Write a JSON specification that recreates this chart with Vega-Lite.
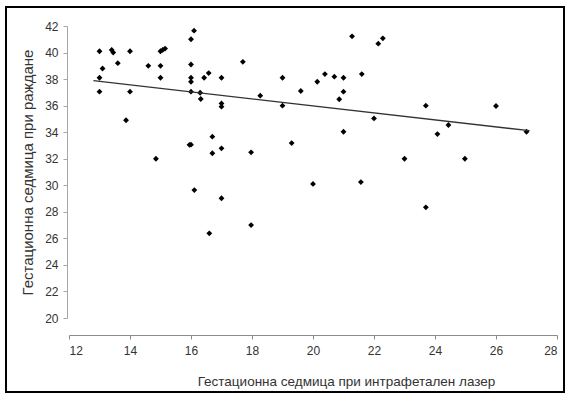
{
  "$schema": "https://vega.github.io/schema/vega-lite/v6.json",
  "width": 558,
  "height": 385,
  "autosize": {"type": "none"},
  "padding": {"left": 6, "top": 7, "right": 5, "bottom": 4},
  "background": "#ffffff",
  "config": {
    "view": {"stroke": "#000000", "strokeWidth": 2},
    "font": "Liberation Sans",
    "axis": {"grid": false, "labelOverlap": false}
  },
  "datasets": {
    "points": [
      {"x": 13.0, "y": 40.1}, {"x": 13.4, "y": 40.2}, {"x": 13.45, "y": 40.0}, {"x": 14.0, "y": 40.1},
      {"x": 13.1, "y": 38.8}, {"x": 13.6, "y": 39.2}, {"x": 13.0, "y": 38.1}, {"x": 14.6, "y": 39.0},
      {"x": 15.0, "y": 40.1}, {"x": 15.07, "y": 40.2}, {"x": 15.15, "y": 40.3}, {"x": 15.0, "y": 39.0},
      {"x": 15.0, "y": 38.1}, {"x": 13.0, "y": 37.05}, {"x": 14.0, "y": 37.05}, {"x": 13.87, "y": 34.9},
      {"x": 14.85, "y": 32.0}, {"x": 15.95, "y": 33.05}, {"x": 16.1, "y": 41.65}, {"x": 16.0, "y": 41.0},
      {"x": 16.0, "y": 39.1}, {"x": 16.0, "y": 38.1}, {"x": 16.0, "y": 37.8}, {"x": 16.43, "y": 38.1},
      {"x": 16.58, "y": 38.45}, {"x": 17.0, "y": 38.1}, {"x": 17.7, "y": 39.3}, {"x": 16.0, "y": 37.05},
      {"x": 16.3, "y": 36.97}, {"x": 16.32, "y": 36.5}, {"x": 17.0, "y": 36.17}, {"x": 17.0, "y": 35.92},
      {"x": 18.27, "y": 36.75}, {"x": 19.0, "y": 38.1}, {"x": 19.0, "y": 36.0}, {"x": 19.6, "y": 37.1},
      {"x": 16.7, "y": 33.66}, {"x": 21.28, "y": 41.22}, {"x": 22.14, "y": 40.67}, {"x": 22.29, "y": 41.07},
      {"x": 20.14, "y": 37.8}, {"x": 20.39, "y": 38.38}, {"x": 20.7, "y": 38.18}, {"x": 21.0, "y": 38.1},
      {"x": 21.6, "y": 38.38}, {"x": 21.0, "y": 37.05}, {"x": 20.86, "y": 36.48}, {"x": 23.7, "y": 36.0},
      {"x": 22.0, "y": 35.04}, {"x": 21.0, "y": 34.03}, {"x": 26.0, "y": 35.97}, {"x": 24.44, "y": 34.54},
      {"x": 24.08, "y": 33.86}, {"x": 27.0, "y": 34.03}, {"x": 16.0, "y": 33.06}, {"x": 16.7, "y": 32.41},
      {"x": 17.0, "y": 32.78}, {"x": 17.97, "y": 32.48}, {"x": 19.3, "y": 33.18}, {"x": 16.11, "y": 29.64},
      {"x": 17.0, "y": 29.02}, {"x": 17.97, "y": 27.0}, {"x": 16.6, "y": 26.38}, {"x": 23.0, "y": 32.0},
      {"x": 20.0, "y": 30.1}, {"x": 21.57, "y": 30.24}, {"x": 23.7, "y": 28.34}, {"x": 24.98, "y": 32.0}
    ],
    "trend": [
      {"x": 12.8, "y": 37.88},
      {"x": 27.1, "y": 34.11}
    ]
  },
  "encoding": {
    "x": {
      "field": "x", "type": "quantitative",
      "scale": {"domain": [12, 28], "range": [63, 551], "nice": false, "zero": false},
      "axis": {
        "values": [12, 14, 16, 18, 20, 22, 24, 26, 28],
        "labelOverlap": false,
        "offset": -57,
        "domainColor": "#8c8c8c", "tickColor": "#8c8c8c", "tickSize": 4,
        "labelFontSize": 12, "labelColor": "#333333", "labelPadding": 6,
        "title": "Гестационна седмица при интрафетален лазер",
        "titleFontSize": 13.5, "titleFontWeight": "normal", "titleColor": "#333333",
        "titleX": 340, "titleY": 39
      }
    },
    "y": {
      "field": "y", "type": "quantitative",
      "scale": {"domain": [20, 42], "range": [311, 19], "nice": false, "zero": false},
      "axis": {
        "values": [20, 22, 24, 26, 28, 30, 32, 34, 36, 38, 40, 42],
        "labelOverlap": false,
        "offset": -61,
        "domainColor": "#a6a6a6", "tickColor": "#a6a6a6", "tickSize": 4,
        "labelFontSize": 12, "labelColor": "#333333", "labelPadding": 5,
        "title": "Гестационна седмица при раждане",
        "titleFontSize": 15, "titleFontWeight": "normal", "titleColor": "#333333",
        "titleX": -32
      }
    }
  },
  "layer": [
    {
      "data": {"name": "points"},
      "mark": {"type": "point", "shape": "diamond", "filled": true, "color": "#000000", "size": 34, "opacity": 1}
    },
    {
      "data": {"name": "trend"},
      "mark": {"type": "line", "color": "#333333", "strokeWidth": 1.3}
    }
  ]
}
